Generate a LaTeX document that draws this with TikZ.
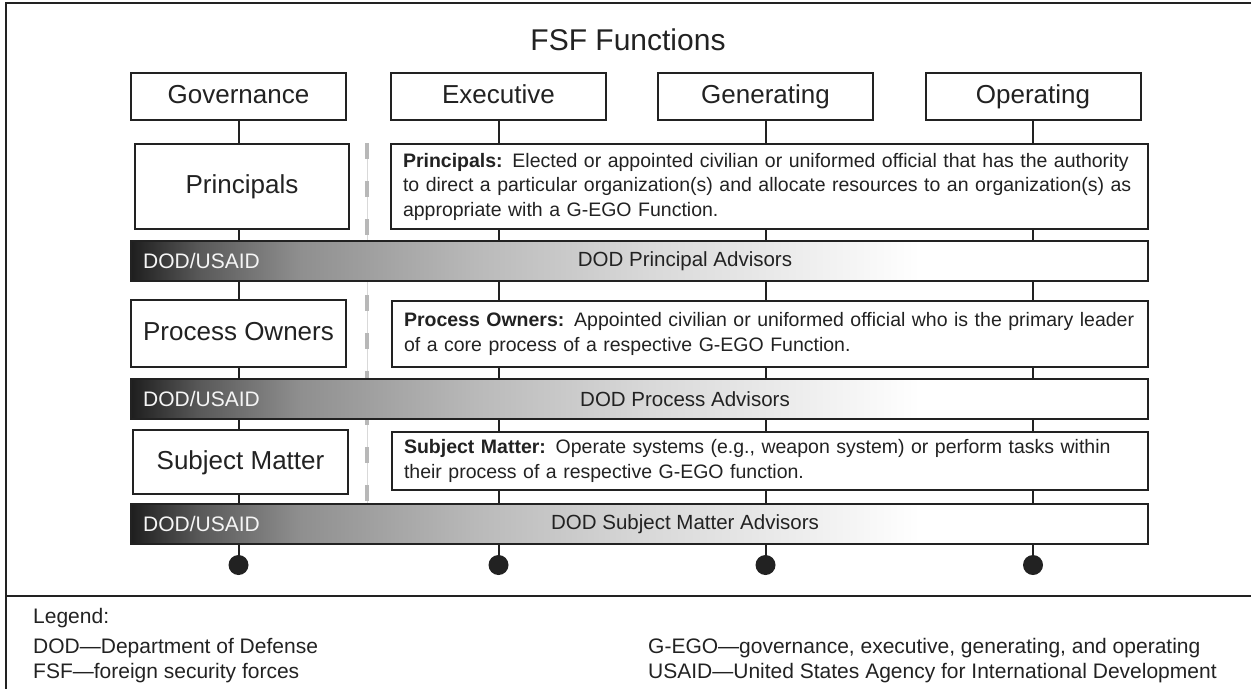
\documentclass[tikz,border=0pt]{standalone}
\usepackage{fontspec}
\setmainfont{Liberation Sans}
\definecolor{ink}{HTML}{222222}
\pgfdeclarehorizontalshading{barshade}{100bp}{color(0bp)=(black!88); color(25bp)=(black!88); color(28.4bp)=(black!65); color(33.3bp)=(black!44); color(42.2bp)=(black!27); color(50.5bp)=(black!15); color(57.9bp)=(black!7); color(63.8bp)=(white); color(100bp)=(white)}
\begin{document}
\begin{tikzpicture}[x=1pt,y=-1pt,
  box/.style={draw=ink, line width=2pt, inner sep=0pt, outer sep=0pt, text=ink, fill=white},
  topbox/.style={box, minimum width=215pt, minimum height=47pt, text height=19pt, text depth=5pt, font=\fontsize{26}{30}\selectfont},
  leftbox/.style={box, minimum width=215pt, text height=19pt, text depth=5pt, font=\fontsize{26}{30}\selectfont},
  descbox/.style={box, minimum width=757pt, text width=733pt, inner xsep=12pt, align=left, font=\fontsize{19.5}{24.5}\selectfont},
  barbox/.style={draw=ink, line width=2pt, inner sep=0pt, outer sep=0pt, shading=barshade, minimum width=1017pt, minimum height=40pt},
  barlead/.style={anchor=west, text=black!4, inner sep=0pt, font=\fontsize{21}{24}\selectfont},
  bartext/.style={text=ink, inner sep=0pt, font=\fontsize{20.5}{24}\selectfont},
  conn/.style={draw=ink, line width=2pt},
  dotnode/.style={circle, fill=ink, minimum size=20pt, inner sep=0pt},
  legend/.style={anchor=base west, inner sep=0pt, text=ink, font=\fontsize{21}{24}\selectfont},
  frame/.style={draw=ink, line width=2.5pt}
]
\useasboundingbox (0,0) rectangle (1251,689);
% frame
\draw[frame] (1251,3) -- (6,3) -- (6,689);
\draw[frame] (6,596) -- (1251,596);
% title
\node[text=ink, font=\fontsize{30}{34}\selectfont] (title) at (628,40) {FSF Functions};
% separator
\coordinate (septop) at (367,143);
\coordinate (sepbot) at (367,504);
\draw[black!15, line width=1pt] (septop) -- (sepbot);
\draw[black!28, line width=4pt, dash pattern=on 16pt off 22pt] (septop) -- (sepbot);
% top boxes
\node[topbox] (gov) at (238.5,96.5) {Governance};
\node[topbox] (exe) at (498.5,96.5) {Executive};
\node[topbox] (gen) at (765.5,96.5) {Generating};
\node[topbox] (ope) at (1033,96.5) {Operating};
% principals row
\node[leftbox, minimum width=214pt, minimum height=85pt] (prin) at (242,186.5) {Principals};
\node[descbox, minimum height=85pt] (prind) at (769.5,186.5) {\textbf{Principals:} Elected or appointed civilian or uniformed official that has the authority\\to direct a particular organization(s) and allocate resources to an organization(s) as\\appropriate with a G-EGO Function.};
\node[barbox] (bar1) at (639.5,261) {};
\node[barlead] (lead1) at ([xshift=12pt]bar1.west) {DOD/USAID};
\node[bartext] (txt1) at (685,261) {DOD Principal Advisors};
% process owners row
\node[leftbox, minimum height=67pt] (po) at (238.5,333.5) {Process Owners};
\node[descbox, minimum width=756pt, text width=732pt, minimum height=66pt] (pod) at (770,334) {\textbf{Process Owners:} Appointed civilian or uniformed official who is the primary leader\\of a core process of a respective G-EGO Function.};
\node[barbox] (bar2) at (639.5,399) {};
\node[barlead] (lead2) at ([xshift=12pt]bar2.west) {DOD/USAID};
\node[bartext] (txt2) at (685,399) {DOD Process Advisors};
% subject matter row
\node[leftbox, minimum height=64pt] (sm) at (240.5,462) {Subject Matter};
\node[descbox, minimum width=756pt, text width=732pt, minimum height=58pt] (smd) at (770,461) {\textbf{Subject Matter:} Operate systems (e.g., weapon system) or perform tasks within\\their process of a respective G-EGO function.};
\node[barbox] (bar3) at (639.5,524) {};
\node[barlead] (lead3) at ([xshift=12pt]bar3.west) {DOD/USAID};
\node[bartext] (txt3) at (685,524) {DOD Subject Matter Advisors};
% dots
\coordinate (dotrow) at (0,565);
\node[dotnode] (dgov) at (gov.south |- dotrow) {};
\node[dotnode] (dexe) at (exe.south |- dotrow) {};
\node[dotnode] (dgen) at (gen.south |- dotrow) {};
\node[dotnode] (dope) at (ope.south |- dotrow) {};
% governance column connectors
\draw[conn] (gov.south) -- (gov.south |- prin.north);
\draw[conn] (gov.south |- prin.south) -- (gov.south |- bar1.north);
\draw[conn] (gov.south |- bar1.south) -- (gov.south |- po.north);
\draw[conn] (gov.south |- po.south) -- (gov.south |- bar2.north);
\draw[conn] (gov.south |- bar2.south) -- (gov.south |- sm.north);
\draw[conn] (gov.south |- sm.south) -- (gov.south |- bar3.north);
\draw[conn] (gov.south |- bar3.south) -- (dgov.center);
% other columns
\foreach \c in {exe,gen,ope} {
  \draw[conn] (\c.south) -- (\c.south |- prind.north);
  \draw[conn] (\c.south |- prind.south) -- (\c.south |- bar1.north);
  \draw[conn] (\c.south |- bar1.south) -- (\c.south |- pod.north);
  \draw[conn] (\c.south |- pod.south) -- (\c.south |- bar2.north);
  \draw[conn] (\c.south |- bar2.south) -- (\c.south |- smd.north);
  \draw[conn] (\c.south |- smd.south) -- (\c.south |- bar3.north);
  \draw[conn] (\c.south |- bar3.south) -- (d\c.center);
}
% legend
\node[legend] (leg0) at (33,623) {Legend:};
\node[legend] (leg1) at (33,653) {DOD—Department of Defense};
\node[legend] (leg2) at (33,678) {FSF—foreign security forces};
\node[legend] (leg3) at (648,653) {G-EGO—governance, executive, generating, and operating};
\node[legend] (leg4) at (648,678) {USAID—United States Agency for International Development};
\end{tikzpicture}
\end{document}
